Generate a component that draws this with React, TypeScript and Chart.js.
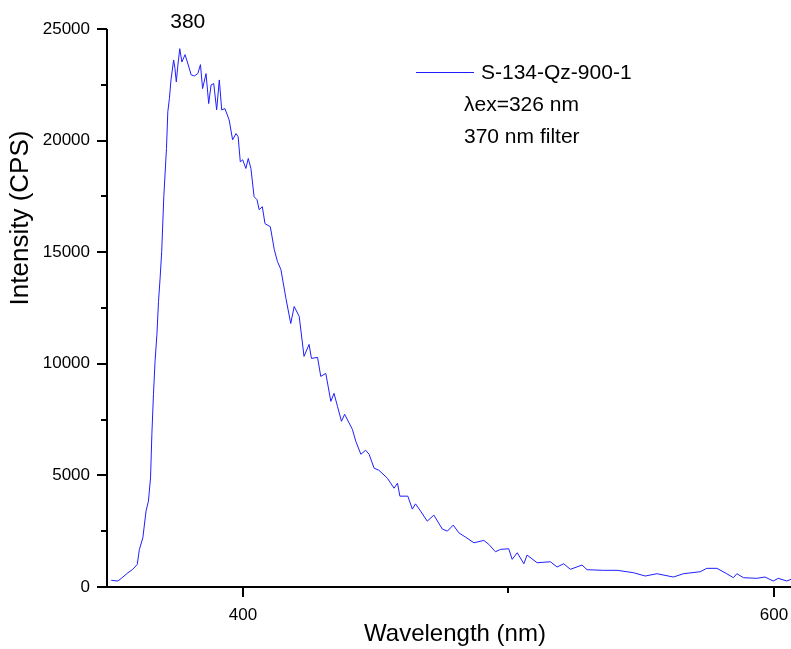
import { useEffect, useRef } from "react";
import { Chart, registerables } from "chart.js";

Chart.register(...registerables);

const FONT = 'Arial, "Liberation Sans", sans-serif';
const LINE_COLOR = "rgb(30,30,255)";

// Emission spectrum (nm) and intensity (CPS)
const wavelengths = [
  350.4, 352.9, 354.8, 356.7, 358.5, 360.2, 361.0, 362.3, 363.5, 364.4,
  365.2, 365.7, 366.3, 366.9, 367.6, 368.2, 368.8, 369.4, 370.2, 371.2,
  371.7, 372.3, 372.9, 373.9, 374.4, 374.9, 375.5, 376.2, 377.0, 378.2,
  379.4, 380.5, 381.7, 383.0, 384.0, 384.8, 386.1, 387.1, 388.0, 389.0,
  390.1, 391.1, 392.0, 393.2, 394.8, 396.1, 397.4, 398.2, 399.0, 399.9,
  401.1, 402.0, 403.0, 404.2, 405.3, 406.1, 407.3, 408.3, 410.3, 411.8,
  413.0, 414.3, 416.2, 418.0, 419.3, 421.2, 423.0, 424.9, 425.8, 428.1,
  429.3, 431.2, 433.1, 434.3, 435.6, 437.1, 438.3, 441.2, 442.5, 444.4,
  446.2, 447.5, 449.4, 451.2, 454.4, 456.9, 458.2, 459.1, 462.1, 463.8,
  465.0, 466.9, 469.4, 471.9, 475.1, 477.0, 479.2, 481.3, 483.8, 487.0,
  490.7, 492.6, 495.1, 497.0, 500.1, 501.4, 503.3, 505.8, 507.0, 510.8,
  515.8, 518.3, 520.8, 523.3, 527.7, 529.6, 535.8, 540.9, 547.1, 551.5,
  555.9, 562.1, 565.9, 572.2, 574.7, 578.5, 582.2, 584.7, 586.0, 588.5,
  593.5, 596.6, 599.7, 601.6, 604.8, 606.4,
];

const intensity = [
  300, 268, 447, 640, 790, 1015, 1686, 2205, 3400, 3846,
  4888, 6842, 8631, 10107, 11314, 12790, 13832, 15026, 17500, 19646,
  21287, 21882, 22718, 23612, 23224, 22629, 23389, 24118, 23523, 23850,
  23389, 22942, 22897, 23000, 23403, 22329, 23000, 21658, 22494, 22553,
  21376, 22718, 21376, 21435, 20929, 20035, 20317, 20169, 19051, 19140,
  18751, 19199, 18751, 17486, 17352, 16904, 17038, 16278, 16144, 15115,
  14579, 14221, 12924, 11806, 12566, 12119, 10330, 10867, 10241, 10286,
  9436, 9570, 8318, 8676, 8094, 7424, 7737, 7066, 6529, 5948,
  6127, 5948, 5322, 5232, 4874, 4427, 4651, 4070, 4070, 3488,
  3725, 3399, 2952, 3220, 2594, 2504, 2773, 2428, 2236, 1981,
  2088, 1910, 1579, 1686, 1713, 1239, 1534, 1042, 1431, 1087,
  1131, 894, 1042, 792, 984, 774, 747, 747, 640, 492,
  595, 447, 595, 684, 836, 836, 595, 416, 595, 416,
  389, 447, 268, 389, 268, 344,
];

const xMajorTicks = [400, 600];
const xMinorTicks = [500];
const yMajorTicks = [0, 5000, 10000, 15000, 20000, 25000];
const yMinorTicks = [2500, 7500, 12500, 17500, 22500];

const seriesName = "S-134-Qz-900-1";
const noteLines = ["\u03BBex=326 nm", "370 nm filter"];
const peakLabel = "380";
const peakLabelX = 379.2;
const xTitle = "Wavelength (nm)";
const yTitle = "Intensity (CPS)";

const decorPlugin = {
  id: "decor",
  afterDraw(chart: any) {
    const { ctx, chartArea } = chart;
    const xs = chart.scales.x;
    const ys = chart.scales.y;
    ctx.save();
    ctx.strokeStyle = "#000";
    ctx.lineWidth = 2;
    // axes
    ctx.beginPath();
    ctx.moveTo(chartArea.left, ys.getPixelForValue(25000));
    ctx.lineTo(chartArea.left, chartArea.bottom);
    ctx.moveTo(chartArea.left - 1, chartArea.bottom);
    ctx.lineTo(chartArea.right, chartArea.bottom);
    ctx.stroke();
    // ticks
    ctx.beginPath();
    yMajorTicks.forEach((v) => {
      const p = Math.round(ys.getPixelForValue(v));
      ctx.moveTo(chartArea.left - 10, p);
      ctx.lineTo(chartArea.left, p);
    });
    yMinorTicks.forEach((v) => {
      const p = Math.round(ys.getPixelForValue(v));
      ctx.moveTo(chartArea.left - 6, p);
      ctx.lineTo(chartArea.left, p);
    });
    xMajorTicks.forEach((v) => {
      const p = Math.round(xs.getPixelForValue(v));
      ctx.moveTo(p, chartArea.bottom);
      ctx.lineTo(p, chartArea.bottom + 10);
    });
    xMinorTicks.forEach((v) => {
      const p = Math.round(xs.getPixelForValue(v));
      ctx.moveTo(p, chartArea.bottom);
      ctx.lineTo(p, chartArea.bottom + 6);
    });
    ctx.stroke();

    ctx.fillStyle = "#000";
    // axis titles
    ctx.font = `24px ${FONT}`;
    ctx.textAlign = "center";
    ctx.textBaseline = "middle";
    ctx.fillText(xTitle, 455, 634);
    ctx.save();
    ctx.font = `26px ${FONT}`;
    ctx.translate(21, 218);
    ctx.rotate(-Math.PI / 2);
    ctx.fillText(yTitle, 0, 0);
    ctx.restore();

    // peak annotation
    ctx.font = `21px ${FONT}`;
    ctx.fillText(peakLabel, xs.getPixelForValue(peakLabelX), 22);

    // legend
    ctx.strokeStyle = LINE_COLOR;
    ctx.lineWidth = 1;
    ctx.beginPath();
    ctx.moveTo(416, 72.5);
    ctx.lineTo(474, 72.5);
    ctx.stroke();
    ctx.textAlign = "left";
    ctx.font = `21px ${FONT}`;
    ctx.fillText(seriesName, 481, 73);
    ctx.fillText(noteLines[0], 464, 105);
    ctx.fillText(noteLines[1], 464, 137);
    ctx.restore();
  },
};

export default function App() {
  const ref = useRef<HTMLCanvasElement>(null);
  useEffect(() => {
    const chart = new Chart(ref.current as HTMLCanvasElement, {
      type: "line",
      data: {
        datasets: [
          {
            data: wavelengths.map((x, i) => ({ x, y: intensity[i] })),
            borderColor: LINE_COLOR,
            borderWidth: 1,
            pointRadius: 0,
            tension: 0,
            fill: false,
          },
        ],
      },
      options: {
        responsive: false,
        animation: false,
        devicePixelRatio: 1,
        layout: { padding: { top: 29, right: 0, left: 0, bottom: 0 } },
        plugins: { legend: { display: false }, tooltip: { enabled: false } },
        scales: {
          x: {
            type: "linear",
            min: 348.8,
            max: 606.4,
            afterFit: (s: any) => {
              s.height = 62;
              s.paddingLeft = 0;
              s.paddingRight = 0;
            },
            afterBuildTicks: (s: any) => {
              s.ticks = xMajorTicks.map((v) => ({ value: v }));
            },
            ticks: {
              font: { family: FONT, size: 17 },
              color: "#000",
              padding: 18,
              maxRotation: 0,
              autoSkip: false,
            },
            grid: { display: false, drawTicks: false },
            border: { display: false },
          },
          y: {
            type: "linear",
            min: 0,
            max: 25000,
            afterFit: (s: any) => {
              s.width = 107;
              s.paddingTop = 0;
              s.paddingBottom = 0;
            },
            afterBuildTicks: (s: any) => {
              s.ticks = yMajorTicks.map((v) => ({ value: v }));
            },
            ticks: {
              font: { family: FONT, size: 17 },
              color: "#000",
              padding: 17,
              autoSkip: false,
              callback: (v: any) => String(v),
            },
            grid: { display: false, drawTicks: false },
            border: { display: false },
          },
        },
      },
      plugins: [decorPlugin],
    });
    return () => chart.destroy();
  }, []);
  return (
    <div style={{ position: "absolute", left: 0, top: 0, width: 791, height: 649, background: "#fff" }}>
      <canvas ref={ref} width={791} height={649} style={{ display: "block" }} />
    </div>
  );
}
